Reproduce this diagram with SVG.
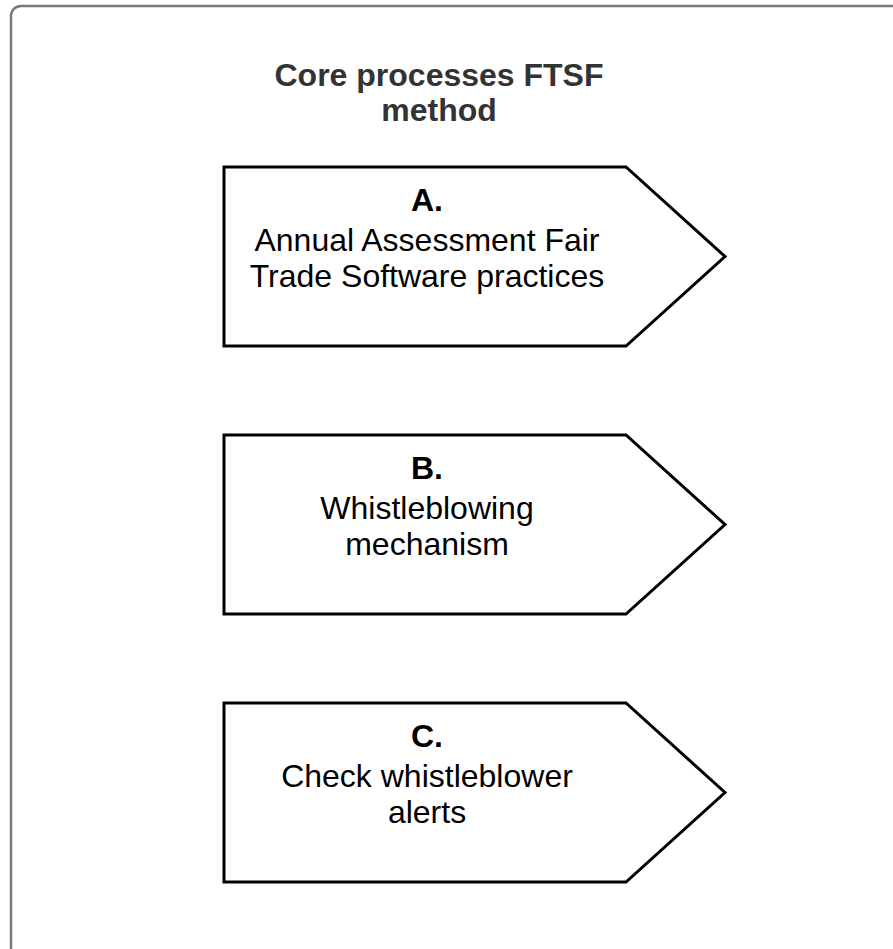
<svg xmlns="http://www.w3.org/2000/svg" width="893" height="949" viewBox="0 0 893 949">
  <style>
    .frame { fill: #ffffff; stroke: #7a7a7a; stroke-width: 2.5; }
    .step { fill: #ffffff; stroke: #000000; stroke-width: 3; stroke-linejoin: miter; }
    .title { font-family: "Liberation Sans", Arial, sans-serif; font-weight: bold; font-size: 32px; fill: #333333; text-anchor: middle; }
    .label { font-family: "Liberation Sans", Arial, sans-serif; font-size: 32px; fill: #000000; text-anchor: middle; }
    .key { font-weight: bold; }
  </style>
  <rect width="893" height="949" fill="#ffffff"/>
  <!-- container -->
  <g id="container">
    <rect class="frame" x="11" y="6" width="920" height="980" rx="10" ry="10"/>
    <text class="title" x="439" y="86">Core processes FTSF</text>
    <text class="title" x="439" y="121">method</text>
  </g>
  <g id="connectors"></g>
  <!-- process steps -->
  <g id="step-a">
    <polygon class="step" points="224,167 626,167 725,256.5 626,346 224,346"/>
    <text class="label key" x="427" y="211">A.</text>
    <text class="label" x="427" y="251">Annual Assessment Fair</text>
    <text class="label" x="427" y="287">Trade Software practices</text>
  </g>
  <g id="step-b">
    <polygon class="step" points="224,435 626,435 725,524.5 626,614 224,614"/>
    <text class="label key" x="427" y="479">B.</text>
    <text class="label" x="427" y="519">Whistleblowing</text>
    <text class="label" x="427" y="555">mechanism</text>
  </g>
  <g id="step-c">
    <polygon class="step" points="224,703 626,703 725,792.5 626,882 224,882"/>
    <text class="label key" x="427" y="747">C.</text>
    <text class="label" x="427" y="787">Check whistleblower</text>
    <text class="label" x="427" y="823">alerts</text>
  </g>
</svg>
